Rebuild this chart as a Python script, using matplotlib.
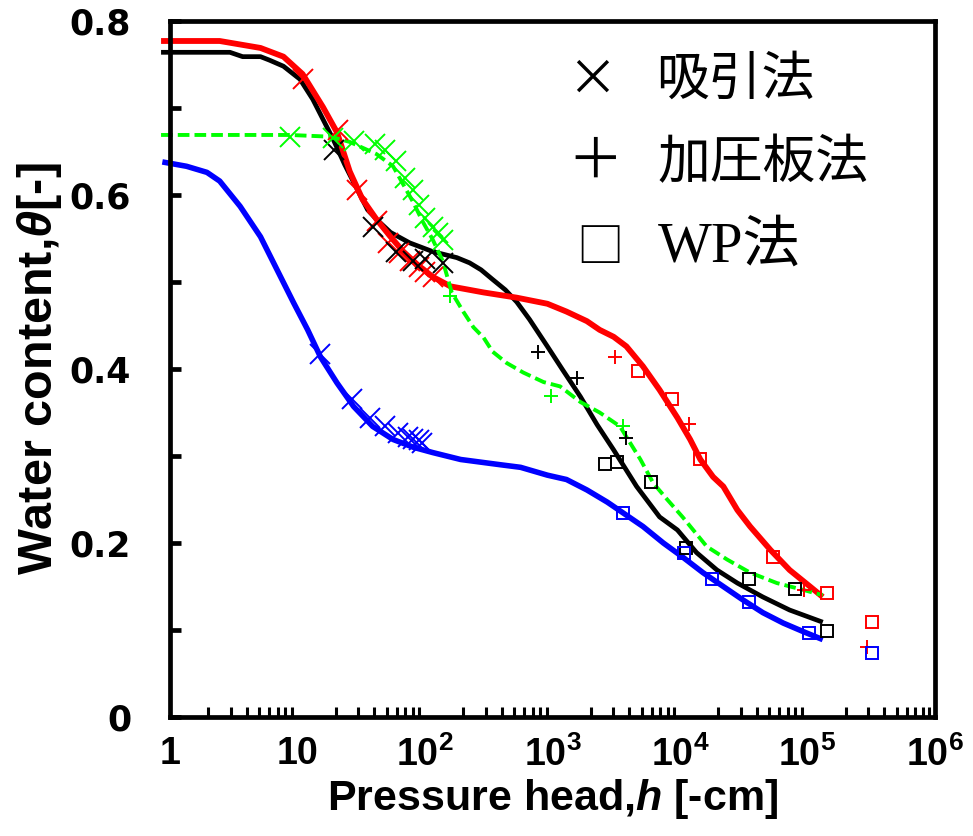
import numpy as np
import matplotlib
matplotlib.use("Agg")
import matplotlib.pyplot as plt
from matplotlib import font_manager
from matplotlib.ticker import FixedLocator, LogLocator, NullFormatter

# narrow bold face for axis text if available
names = {f.name for f in font_manager.fontManager.ttflist}
NARROW = "Liberation Sans Narrow" if "Liberation Sans Narrow" in names else "Liberation Sans"
JP = ["Noto Sans CJK JP", "DejaVu Sans"]

plt.rcParams["mathtext.fontset"] = "custom"
plt.rcParams["mathtext.rm"] = NARROW + ":bold"
plt.rcParams["mathtext.bf"] = NARROW + ":bold"
plt.rcParams["mathtext.it"] = NARROW + ":italic:bold"

# fitted retention curves: pF = log10(h [cm]), theta [-]
red_pf = [-0.07, 0.39, 0.55, 0.71, 0.89, 1.04, 1.20, 1.31, 1.41, 1.51, 1.62, 1.73, 1.83, 1.94,
          2.06, 2.20, 2.46, 2.72, 2.96, 3.11, 3.27, 3.37, 3.48, 3.58, 3.71, 3.84, 3.98, 4.08,
          4.16, 4.26, 4.34, 4.45, 4.55, 4.71, 4.86, 5.02, 5.12]
red_th = [0.777, 0.777, 0.773, 0.769, 0.759, 0.739, 0.701, 0.672, 0.627, 0.595, 0.572, 0.552,
          0.535, 0.520, 0.506, 0.495, 0.488, 0.482, 0.475, 0.466, 0.455, 0.445, 0.437, 0.426,
          0.403, 0.376, 0.344, 0.319, 0.296, 0.276, 0.265, 0.238, 0.219, 0.192, 0.169, 0.150,
          0.138]

black_pf = [-0.07, 0.47, 0.57, 0.71, 0.78, 0.89, 1.02, 1.12, 1.20, 1.28, 1.37, 1.47, 1.55,
            1.62, 1.73, 1.88, 2.06, 2.25, 2.35, 2.44, 2.53, 2.63, 2.72, 2.82, 2.96, 3.08,
            3.22, 3.35, 3.48, 3.66, 3.84, 3.98, 4.13, 4.29, 4.45, 4.65, 4.86, 5.12]
black_th = [0.764, 0.764, 0.759, 0.759, 0.755, 0.748, 0.733, 0.710, 0.687, 0.664, 0.635,
            0.606, 0.583, 0.572, 0.557, 0.545, 0.535, 0.528, 0.522, 0.514, 0.503, 0.491,
            0.477, 0.457, 0.426, 0.399, 0.368, 0.336, 0.307, 0.265, 0.230, 0.215, 0.189,
            0.169, 0.154, 0.138, 0.123, 0.109]

blue_pf = [-0.06, 0.13, 0.29, 0.39, 0.55, 0.71, 0.84, 0.97, 1.08, 1.18, 1.31, 1.44, 1.59,
           1.75, 1.91, 2.06, 2.28, 2.59, 2.75, 2.96, 3.11, 3.27, 3.43, 3.55, 3.71, 3.87,
           4.02, 4.18, 4.34, 4.49, 4.65, 4.81, 4.97, 5.12]
blue_th = [0.638, 0.633, 0.626, 0.616, 0.587, 0.552, 0.514, 0.476, 0.445, 0.414, 0.384,
           0.357, 0.334, 0.319, 0.310, 0.304, 0.296, 0.290, 0.287, 0.278, 0.273, 0.261,
           0.247, 0.235, 0.219, 0.200, 0.184, 0.166, 0.150, 0.135, 0.120, 0.108, 0.098,
           0.089]

green_pf = [-0.07, 0.94, 1.26, 1.41, 1.62, 1.75, 1.83, 1.91, 1.98, 2.06, 2.14, 2.21, 2.30,
            2.38, 2.46, 2.53, 2.64, 2.77, 2.93, 3.06, 3.22, 3.37, 3.53, 3.58, 3.69, 3.79,
            3.90, 4.02, 4.21, 4.37, 4.55, 4.76, 4.97, 5.12]
green_th = [0.669, 0.669, 0.667, 0.661, 0.647, 0.633, 0.612, 0.591, 0.570, 0.549, 0.524,
            0.488, 0.466, 0.448, 0.436, 0.420, 0.407, 0.396, 0.385, 0.380, 0.362, 0.350,
            0.334, 0.322, 0.296, 0.269, 0.250, 0.230, 0.196, 0.181, 0.166, 0.154, 0.146,
            0.140]

# measured points: suction (x), pressure plate (+), WP (square)
red_x_pf = [1.04, 1.32, 1.47, 1.62, 1.71, 1.80, 1.88, 1.95, 2.00, 2.06]
red_x_th = [0.733, 0.675, 0.606, 0.570, 0.545, 0.533, 0.524, 0.517, 0.512, 0.506]
black_x_pf = [1.29, 1.59, 1.77, 1.91, 2.00, 2.14]
black_x_th = [0.652, 0.563, 0.534, 0.524, 0.526, 0.522]
blue_x_pf = [1.18, 1.43, 1.57, 1.69, 1.79, 1.87, 1.91, 1.95, 1.98]
blue_x_th = [0.417, 0.365, 0.344, 0.334, 0.327, 0.322, 0.320, 0.318, 0.315]
green_x_pf = [0.94, 1.28, 1.44, 1.61, 1.69, 1.77, 1.84, 1.91, 1.95, 2.00, 2.06, 2.10, 2.14]
green_x_th = [0.667, 0.666, 0.662, 0.659, 0.652, 0.639, 0.619, 0.606, 0.588, 0.574, 0.563,
              0.556, 0.548]

red_p_pf = [3.49, 4.07, 4.97, 5.47]
red_p_th = [0.414, 0.337, 0.146, 0.081]
black_p_pf = [2.89, 3.19, 3.58]
black_p_th = [0.419, 0.390, 0.321]
green_p_pf = [2.20, 2.99, 3.55]
green_p_th = [0.484, 0.369, 0.335]

red_s_pf = [3.67, 3.94, 4.16, 4.73, 5.15, 5.51]
red_s_th = [0.398, 0.365, 0.296, 0.184, 0.142, 0.109]
black_s_pf = [3.41, 3.51, 3.77, 4.05, 4.54, 4.90, 5.15]
black_s_th = [0.291, 0.293, 0.270, 0.194, 0.159, 0.147, 0.099]
blue_s_pf = [3.55, 4.03, 4.25, 4.54, 5.01, 5.51]
blue_s_th = [0.235, 0.189, 0.159, 0.132, 0.097, 0.074]

legend_items = [("×", "吸引法"), ("＋", "加圧板法"), ("□", "WP法")]

RED, BLACK, BLUE, GREEN = "#ff0000", "#000000", "#0000ff", "#00ff00"


def h(pf):
    return 10 ** np.asarray(pf)


fig = plt.figure(figsize=(9.73, 8.36), dpi=100)
ax = fig.add_axes([0.1747, 0.1423, 0.7862, 0.8326])

ax.plot(h(black_pf), black_th, color=BLACK, lw=3.4, clip_on=False, solid_capstyle="butt")
ax.plot(h(blue_pf), blue_th, color=BLUE, lw=4.0, clip_on=False, solid_capstyle="butt")
ax.plot(h(red_pf), red_th, color=RED, lw=4.2, clip_on=False, solid_capstyle="butt")
ax.plot(h(green_pf), green_th, color=GREEN, lw=2.8, ls=(0, (3, 1.3)), clip_on=False)

for pf, th, c in [(red_x_pf, red_x_th, RED), (black_x_pf, black_x_th, BLACK),
                  (blue_x_pf, blue_x_th, BLUE), (green_x_pf, green_x_th, GREEN)]:
    ax.plot(h(pf), th, ls="none", marker="x", ms=14, mew=1.4, color=c)
for pf, th, c in [(red_p_pf, red_p_th, RED), (black_p_pf, black_p_th, BLACK),
                  (green_p_pf, green_p_th, GREEN)]:
    ax.plot(h(pf), th, ls="none", marker="+", ms=10, mew=1.4, color=c)
for pf, th, c in [(red_s_pf, red_s_th, RED), (black_s_pf, black_s_th, BLACK),
                  (blue_s_pf, blue_s_th, BLUE)]:
    ax.plot(h(pf), th, ls="none", marker="s", ms=8, mew=1.4, mfc="none", mec=c)

ax.set_xscale("log")
ax.set_xlim(1, 1e6)
ax.set_ylim(0, 0.8)

for s in ax.spines.values():
    s.set_linewidth(3.4)

# x axis: decade labels, small inward minor ticks
ax.xaxis.set_major_locator(FixedLocator([1, 10, 1e2, 1e3, 1e4, 1e5, 1e6]))
ax.set_xticklabels(["1", "10", "$10^2$", "$10^3$", "$10^4$", "$10^5$", "$10^6$"])
ax.xaxis.set_minor_locator(LogLocator(base=10, subs=np.arange(2, 10), numticks=20))
ax.xaxis.set_minor_formatter(NullFormatter())
ax.tick_params(axis="x", which="major", direction="in", length=0, pad=14, labelsize=27)
ax.tick_params(axis="x", which="minor", direction="in", length=7, width=2.2)
for t in ax.get_xticklabels():
    t.set_fontfamily(NARROW)
    t.set_fontweight("bold")

# y axis: ticks every 0.1, labels every 0.2
ax.set_yticks([0, 0.2, 0.4, 0.6, 0.8])
ax.set_yticklabels(["0", "0.2", "0.4", "0.6", "0.8"])
ax.set_yticks([0.1, 0.3, 0.5, 0.7], minor=True)
ax.tick_params(axis="y", which="both", direction="in", length=8, width=3.4, pad=28,
               labelsize=25)
for t in ax.get_yticklabels():
    t.set_fontfamily("DejaVu Sans")
    t.set_fontweight("bold")

ax.set_xlabel("Pressure head,$h$ [-cm]", fontsize=31, fontweight="bold",
              fontfamily=NARROW, labelpad=2)
ax.set_ylabel(r"Water content,$\theta$[-]", fontsize=35, fontweight="bold",
              fontfamily=NARROW, labelpad=4)

# method key drawn as text in the upper right
sym_pos = [(0.609, 0.904), (0.612, 0.806), (0.617, 0.703)]
sym_size = [36, 40, 34]
word_pos = [(0.674, 0.905), (0.676, 0.806), (0.676, 0.704)]
for (sym, word), (sx, sy), ss, (wx, wy) in zip(legend_items, sym_pos, sym_size, word_pos):
    fig.text(sx, sy, sym, ha="center", va="center", fontsize=ss, family=JP)
    if word.startswith("WP"):
        fig.text(wx, wy, word, ha="left", va="center", fontsize=41,
                 family=["Liberation Serif"] + JP)
    else:
        fig.text(wx, wy, word, ha="left", va="center", fontsize=38, family=JP)

fig.savefig("out.png", dpi=100)
